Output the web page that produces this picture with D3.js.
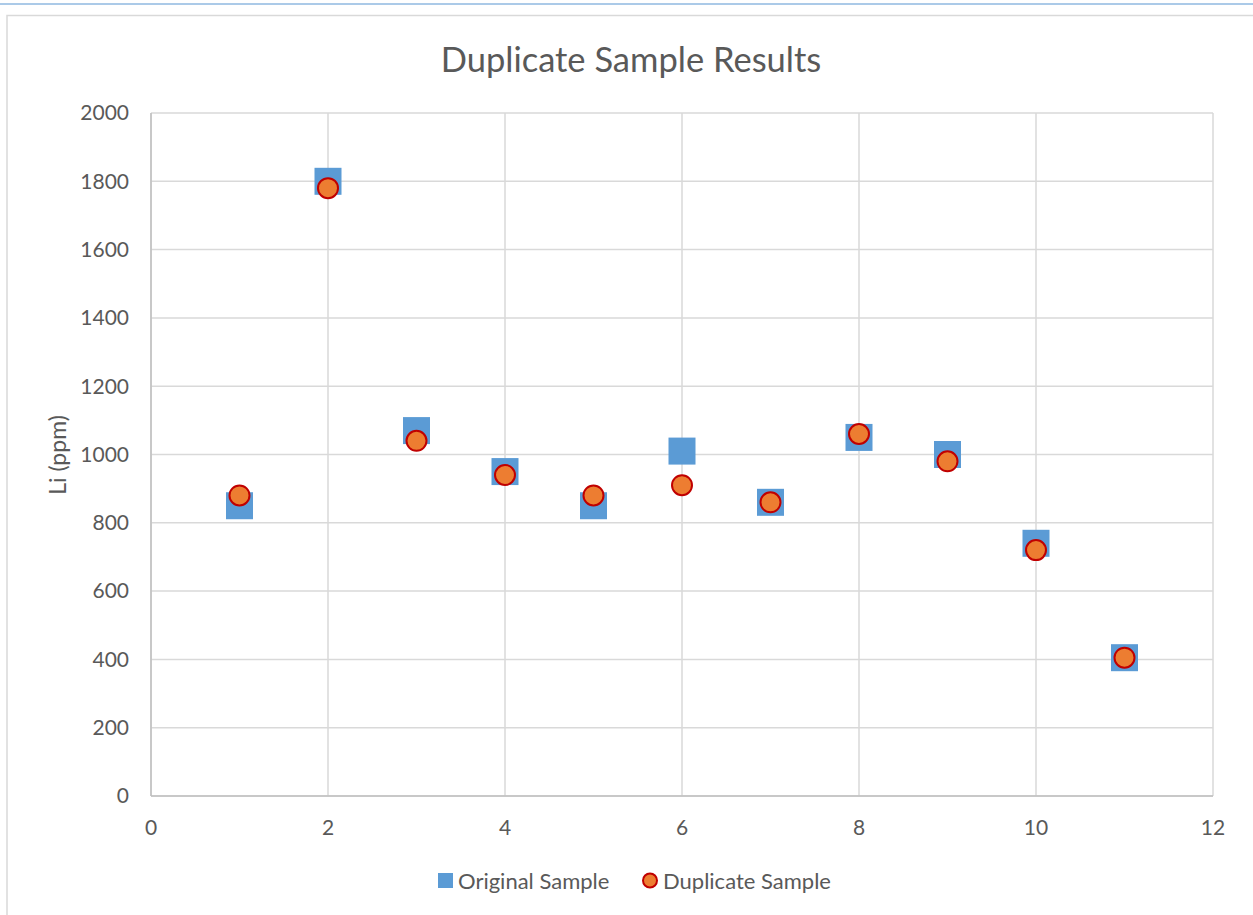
<!DOCTYPE html>
<html><head><meta charset="utf-8">
<script src="https://cdn.jsdelivr.net/npm/d3@7"></script>
<style>html,body{margin:0;padding:0;background:#fff;}svg{display:block;font-family:Lato,"Open Sans",sans-serif;}</style>
</head><body>
<script>
const samples = [1,2,3,4,5,6,7,8,9,10,11];
const original = [850,1800,1070,950,850,1010,860,1050,1000,740,405];
const duplicate = [880,1780,1040,940,880,910,860,1060,980,720,405];
const xTicks = [0,2,4,6,8,10,12];
const yTicks = [0,200,400,600,800,1000,1200,1400,1600,1800,2000];
const title = "Duplicate Sample Results";
const yLabel = "Li (ppm)";
const seriesNames = ["Original Sample","Duplicate Sample"];

const W=1253,H=915;
const svg=d3.select("body").append("svg").attr("width",W).attr("height",H);
// top blue line & chart frame
svg.append("line").attr("x1",0).attr("x2",W).attr("y1",4).attr("y2",4).attr("stroke","#8fb8e0").attr("stroke-width",1.5);
svg.append("rect").attr("x",7).attr("y",15.5).attr("width",W+20).attr("height",H+20).attr("fill","none").attr("stroke","#d9d9d9").attr("stroke-width",1.5);

const x=d3.scaleLinear().domain([0,12]).range([151,1213]);
const y=d3.scaleLinear().domain([0,2000]).range([796,113]);
const grey="#595959";

// gridlines
svg.append("g").selectAll("line").data(yTicks).join("line")
 .attr("x1",x(0)).attr("x2",x(12)).attr("y1",d=>y(d)).attr("y2",d=>y(d))
 .attr("stroke","#d9d9d9").attr("stroke-width",1.5);
svg.append("g").selectAll("line").data(xTicks).join("line")
 .attr("y1",y(0)).attr("y2",y(2000)).attr("x1",d=>x(d)).attr("x2",d=>x(d))
 .attr("stroke","#d9d9d9").attr("stroke-width",1.5);
// axis lines
svg.append("line").attr("x1",x(0)).attr("x2",x(12)).attr("y1",y(0)).attr("y2",y(0)).attr("stroke","#bfbfbf").attr("stroke-width",1.5);
svg.append("line").attr("x1",x(0)).attr("x2",x(0)).attr("y1",y(0)).attr("y2",y(2000)).attr("stroke","#bfbfbf").attr("stroke-width",1.5);

// tick labels
svg.append("g").selectAll("text").data(yTicks).join("text")
 .attr("x",129).attr("y",d=>y(d)).attr("dy","0.35em").attr("text-anchor","end")
 .attr("font-size",21).attr("fill",grey).text(d=>d);
svg.append("g").selectAll("text").data(xTicks).join("text")
 .attr("x",d=>x(d)).attr("y",828).attr("dy","0.35em").attr("text-anchor","middle")
 .attr("font-size",21).attr("fill",grey).text(d=>d);

// title
svg.append("text").attr("x",631).attr("y",60).attr("dy","0.35em").attr("text-anchor","middle")
 .attr("font-size",34.5).attr("fill",grey).text(title);
// y label
svg.append("text").attr("transform","translate(58,455) rotate(-90)").attr("dy","0.35em")
 .attr("text-anchor","middle").attr("font-size",23).attr("fill",grey).text(yLabel);

// points
const s=27;
svg.append("g").selectAll("rect").data(samples).join("rect")
 .attr("x",(d,i)=>x(d)-s/2).attr("y",(d,i)=>y(original[i])-s/2).attr("width",s).attr("height",s)
 .attr("fill","#5b9bd5");
svg.append("g").selectAll("circle").data(samples).join("circle")
 .attr("cx",d=>x(d)).attr("cy",(d,i)=>y(duplicate[i])).attr("r",10)
 .attr("fill","#ed7d31").attr("stroke","#c00000").attr("stroke-width",2);

// legend
const lg=svg.append("g");
lg.append("rect").attr("x",438).attr("y",873).attr("width",15).attr("height",15).attr("fill","#5b9bd5");
lg.append("text").attr("x",458).attr("y",881).attr("dy","0.35em").attr("font-size",22).attr("fill",grey).text(seriesNames[0]);
lg.append("circle").attr("cx",650).attr("cy",880.5).attr("r",7).attr("fill","#ed7d31").attr("stroke","#c00000").attr("stroke-width",2);
lg.append("text").attr("x",663).attr("y",881).attr("dy","0.35em").attr("font-size",22).attr("fill",grey).text(seriesNames[1]);
</script>
</body></html>
